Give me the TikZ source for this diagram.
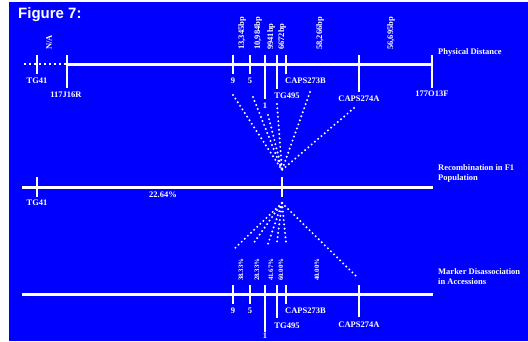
\documentclass[tikz,border=0pt]{standalone}
\usepackage{fontspec}
\setmainfont{Liberation Serif}
\newfontfamily\figfont{Liberation Sans}
\begin{document}
\begin{tikzpicture}[x=1pt,y=-1pt,
  bar/.style={white, line width=3pt},
  tickmark/.style={white, line width=2.8pt},
  lbl/.style={text=white, font=\fontsize{8.5}{9}\selectfont\bfseries, inner sep=0pt},
  vlbl/.style={lbl, rotate=90, anchor=west},
  plbl/.style={text=white, font=\fontsize{6.8}{8}\selectfont\bfseries, inner sep=0pt, rotate=90, anchor=west},
  dots/.style={white, line width=2.2pt, line cap=round, dash pattern=on 0pt off 4.3pt},
  side/.style={text=white, font=\fontsize{8.5}{10.5}\selectfont\bfseries, inner sep=0pt, anchor=north west, align=left}]
\useasboundingbox (0,0) rectangle (528,341);
\fill[white] (0,0) rectangle (528,341);
\fill[blue] (9,2) rectangle (528,341);
\node[text=white, font=\figfont\fontsize{15}{16}\selectfont\bfseries, anchor=west, inner sep=0pt] (fig) at (18,15) {Figure 7:};
% ---------------- top line: physical distance
\coordinate (tS) at (24,64);
\coordinate (tA) at (67,64);
\coordinate (tE) at (432,64);
\draw[white, line width=2.5pt, dash pattern=on 2pt off 3pt] (tS) -- (tA);
\draw[bar] (tA) -- (tE);
\draw[tickmark] (37,55) -- (37,74);
\draw[tickmark] (67,55) -- (67,88);
\draw[tickmark] (233,55) -- (233,74);
\draw[tickmark] (250,55) -- (250,74);
\draw[tickmark] (265,55) -- (265,99);
\draw[tickmark] (277,55) -- (277,89);
\draw[tickmark] (286,55) -- (286,74);
\draw[tickmark] (359,55) -- (359,92);
\draw[tickmark] (432,55) -- (432,88);
\node[lbl] (t41) at (37,81) {TG41};
\node[lbl] (t117) at (66,95) {117J16R};
\node[lbl] (t9) at (233,81) {9};
\node[lbl] (t5) at (250,81) {5};
\node[lbl] (t1) at (265,106) {1};
\node[lbl] (t495) at (287,96) {TG495};
\node[lbl, anchor=west] (t273) at (285,81) {CAPS273B};
\node[lbl] (t274) at (359,99) {CAPS274A};
\node[lbl] (t177) at (432,94) {177O13F};
\node[vlbl] (dna) at (49,50) {N/A};
\node[vlbl] (d9) at (242,50) {13,345bp};
\node[vlbl] (d5) at (258,50) {10,984bp};
\node[vlbl] (d1) at (271,50) {9941bp};
\node[vlbl] (d495) at (282,50) {6672bp};
\node[vlbl] (d274) at (320,50) {58,266bp};
\node[vlbl] (d177) at (391,50) {56,695bp};
\node[side, anchor=west] (phys) at (438,52) {Physical Distance};
% ---------------- middle line: recombination
\coordinate (mS) at (22,187);
\coordinate (mE) at (433,187);
\draw[bar] (mS) -- (mE);
\draw[tickmark] (37,177) -- (37,197);
\draw[tickmark] (282,177) -- (282,197);
\node[lbl] (m41) at (37,203) {TG41};
\node[lbl] (mpc) at (163,195) {22.64\%};
\node[side] (recomb) at (438,164) {Recombination in F1\\Population};
% ---------------- bottom line: disassociation
\coordinate (bS) at (22,294);
\coordinate (bE) at (433,294);
\draw[bar] (bS) -- (bE);
\draw[tickmark] (233,285) -- (233,304);
\draw[tickmark] (250,285) -- (250,304);
\draw[tickmark] (265,285) -- (265,332);
\draw[tickmark] (277,285) -- (277,318);
\draw[tickmark] (286,285) -- (286,304);
\draw[tickmark] (359,285) -- (359,317);
\node[lbl] (b9) at (233,311) {9};
\node[lbl] (b5) at (250,311) {5};
\node[lbl] (b1) at (265,336) {1};
\node[lbl] (b495) at (287,326) {TG495};
\node[lbl, anchor=west] (b273) at (285,311) {CAPS273B};
\node[lbl] (b274) at (359,325) {CAPS274A};
\node[plbl] (p9) at (241,281) {38.33\%};
\node[plbl] (p5) at (257,281) {28.33\%};
\node[plbl] (p1) at (271,281) {41.67\%};
\node[plbl] (p495) at (281,281) {60.00\%};
\node[plbl] (p274) at (317,281) {40.00\%};
\node[side] (marker) at (438,268) {Marker Disassociation\\in Accessions};
% ---------------- fans
\coordinate (cu) at (282,170);
\coordinate (cl) at (282,203);
\foreach \p in {(233,95),(253,97),(268,115),(277,104),(310,92),(354,108)}
  \draw[dots] \p -- (cu);
\foreach \p in {(233,250),(253,244),(268,244),(277,242),(286,242),(358,278)}
  \draw[dots] (cl) -- \p;
\end{tikzpicture}
\end{document}
